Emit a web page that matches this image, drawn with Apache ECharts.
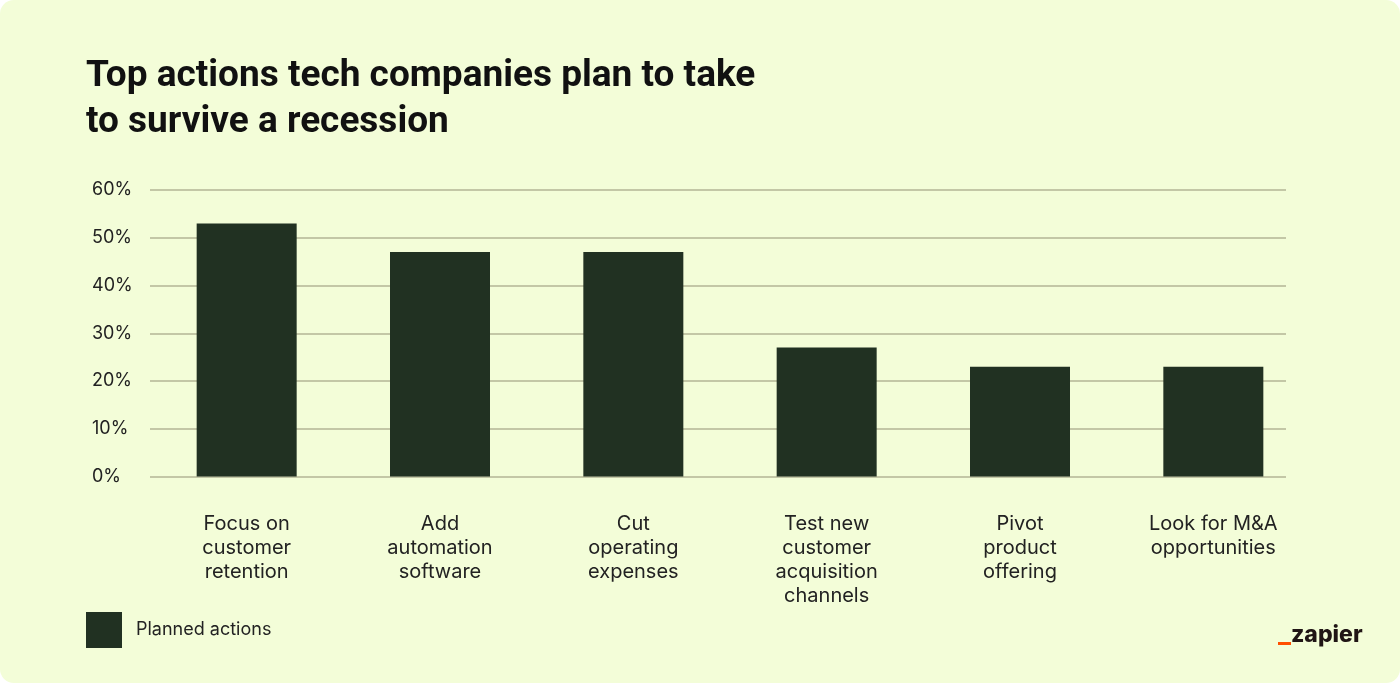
<!DOCTYPE html>
<html>
<head>
<meta charset="utf-8">
<title>Top actions tech companies plan to take to survive a recession</title>
<script src="https://cdn.jsdelivr.net/npm/echarts@6/dist/echarts.min.js"></script>
<style>
  html, body { margin: 0; padding: 0; background: #ffffff; }
  #chart {
    width: 1400px;
    height: 683px;
    background: #f3fdd8;
    border-radius: 14px;
    overflow: hidden;
  }
</style>
</head>
<body>
<div id="chart"></div>
<script>
  "use strict";

  var categories = [
    "Focus on\ncustomer\nretention",
    "Add\nautomation\nsoftware",
    "Cut\noperating\nexpenses",
    "Test new\ncustomer\nacquisition\nchannels",
    "Pivot\nproduct\noffering",
    "Look for M&A\nopportunities"
  ];
  var plannedActions = [53, 47, 47, 27, 23, 23];
  var yTicks = [0, 10, 20, 30, 40, 50, 60];

  var chart = echarts.init(document.getElementById("chart"));

  chart.setOption({
    backgroundColor: "transparent",
    animation: false,
    textStyle: { fontFamily: "Inter, 'Noto Sans', sans-serif" },
    title: {
      text: "Top actions tech companies plan to take\nto survive a recession",
      left: 81,
      top: 49,
      textStyle: {
        fontFamily: "Roboto, Inter, sans-serif",
        fontSize: 37,
        fontWeight: 700,
        lineHeight: 46,
        color: "#111111"
      }
    },
    legend: {
      data: ["Planned actions"],
      icon: "rect",
      left: 81,
      top: 607,
      itemWidth: 36,
      itemHeight: 36,
      itemGap: 20,
      textStyle: {
        fontSize: 18,
        color: "#222222",
        padding: [2, 0, 0, 9]
      }
    },
    grid: [
      // bars
      { left: 150, right: 90, top: 190, bottom: 206.5 },
      // gridlines and tick labels (they stop short of the last band)
      { left: 150, right: 114, top: 190, bottom: 206.5 }
    ],
    xAxis: [
      {
        type: "category",
        gridIndex: 0,
        data: categories,
        axisLine: { show: false },
        axisTick: { show: false },
        axisLabel: {
          margin: 35,
          fontSize: 20,
          lineHeight: 24,
          color: "#222222",
          verticalAlign: "top",
          interval: 0
        }
      },
      {
        type: "value",
        gridIndex: 1,
        show: false,
        min: 0,
        max: 1
      }
    ],
    yAxis: [
      {
        type: "value",
        gridIndex: 0,
        min: yTicks[0],
        max: yTicks[yTicks.length - 1],
        interval: 10,
        show: false,
        splitLine: { show: false }
      },
      {
        type: "value",
        gridIndex: 1,
        min: yTicks[0],
        max: yTicks[yTicks.length - 1],
        interval: 10,
        axisLine: { show: false },
        axisTick: { show: false },
        axisLabel: {
          align: "left",
          margin: 58,
          fontSize: 18,
          color: "#222222",
          formatter: "{value}%"
        },
        splitLine: {
          lineStyle: { color: "#c3c7a6", width: 2 }
        }
      }
    ],
    series: [
      {
        name: "Planned actions",
        type: "bar",
        xAxisIndex: 0,
        yAxisIndex: 0,
        data: plannedActions,
        barWidth: 100,
        z: 3,
        itemStyle: { color: "#213122" }
      }
    ],
    graphic: [
      {
        type: "rect",
        left: 1278,
        top: 642,
        shape: { width: 13, height: 3 },
        style: { fill: "#ff4f00" }
      },
      {
        type: "text",
        left: 1291,
        top: 624,
        style: {
          text: "zapier",
          font: "800 23px Inter, sans-serif",
          fill: "#201515"
        }
      }
    ]
  });
</script>
</body>
</html>
